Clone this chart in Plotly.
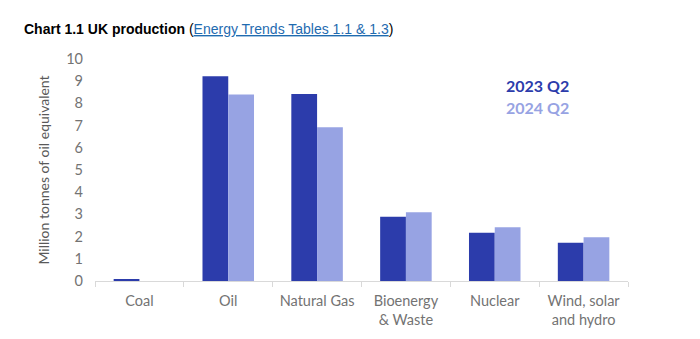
import plotly.graph_objects as go

categories = ["Coal", "Oil", "Natural Gas", "Bioenergy<br>& Waste", "Nuclear", "Wind, solar<br>and hydro"]
q2_2023 = [0.08, 9.22, 8.42, 2.89, 2.17, 1.72]
q2_2024 = [0.0, 8.40, 6.93, 3.10, 2.42, 1.97]
series_names = ["2023 Q2", "2024 Q2"]
y_ticks = list(range(0, 11))

dark = "#2C3CAB"
light = "#97A3E3"

fig = go.Figure()
fig.add_bar(x=categories, y=q2_2023, name=series_names[0], marker_color=dark, marker_line_width=0)
fig.add_bar(x=categories, y=q2_2024, name=series_names[1], marker_color=light, marker_line_width=0)

fig.update_layout(
    width=700, height=339,
    margin=dict(l=95, r=72, t=59, b=58),
    paper_bgcolor="white", plot_bgcolor="white",
    barmode="group", bargap=0.42, bargroupgap=0,
    showlegend=False,
    font=dict(family="Lato, Carlito, sans-serif", color="#6F6F6F", size=14),
)
fig.update_xaxes(
    showline=True, linecolor="#D9D9D9", linewidth=1,
    ticks="outside", tickson="boundaries", ticklen=5, tickcolor="#D9D9D9",
    tickfont=dict(size=14.5, color="#737373"), ticklabelstandoff=7,
    showgrid=False,
)
fig.update_yaxes(
    range=[0, 10], tickvals=y_ticks, showgrid=False, showline=False, zeroline=False,
    tickfont=dict(size=14.5, color="#737373"), ticklabelstandoff=11,
    title=dict(text="Million tonnes of oil equivalent", font=dict(size=14, color="#595959"), standoff=13),
)

fig.add_annotation(
    xref="paper", yref="paper", x=(22 - 95) / 533, y=1 + 30/222, xanchor="left", yanchor="middle",
    text="<b>Chart 1.1 UK production</b> (<span style='color:#1F6BB0'><u>Energy Trends Tables 1.1 &amp; 1.3</u></span>)",
    showarrow=False, font=dict(family="Liberation Sans, Arial", size=14, color="#000000"),
)
fig.add_annotation(
    xref="paper", yref="paper", x=(504 - 95) / 533, y=(281.5 - 86) / 222, xanchor="left", yanchor="middle",
    text="<b>" + series_names[0] + "</b>", showarrow=False,
    font=dict(family="Lato, Carlito, sans-serif", size=16, color=dark),
)
fig.add_annotation(
    xref="paper", yref="paper", x=(504 - 95) / 533, y=(281.5 - 108) / 222, xanchor="left", yanchor="middle",
    text="<b>" + series_names[1] + "</b>", showarrow=False,
    font=dict(family="Lato, Carlito, sans-serif", size=16, color=light),
)

fig.write_html("out.html")
